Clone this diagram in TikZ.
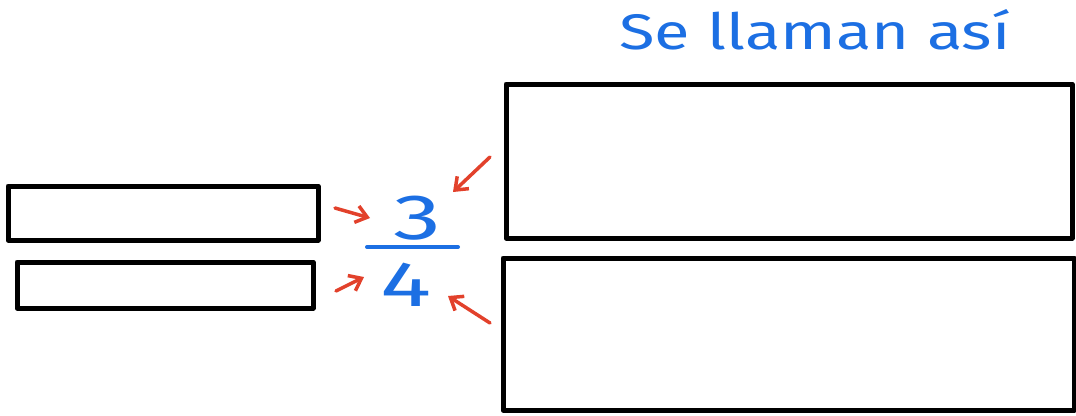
\documentclass[tikz,border=0pt]{standalone}
\usepackage{fontspec}
\setmainfont{Fira Sans}
\usetikzlibrary{arrows.meta}
\definecolor{penblue}{HTML}{1C6FE3}
\definecolor{penred}{HTML}{E2412B}
\tikzset{
  box/.style={draw=black, line width=5pt, inner sep=0pt, line join=round},
  bluetext/.style={text=penblue, inner sep=0pt, font=\fontsize{64}{64}\selectfont\mdseries, xscale=1.5},
  redarrow/.style={draw=penred, line width=3.5pt, line cap=round, -{Straight Barb[length=11pt,width=17pt,line width=3.5pt]}},
}
\begin{document}
\begin{tikzpicture}[x=1pt,y=-1pt]
\useasboundingbox (0,0) rectangle (1076,415);
% boxes
\node[box, minimum width=310pt, minimum height=54pt] (lt) at (163,213) {};
\node[box, minimum width=296pt, minimum height=46pt] (lb) at (165,285) {};
\node[box, minimum width=566pt, minimum height=154pt] (rt) at (789,161) {};
\node[box, minimum width=571pt, minimum height=152pt] (rb) at (788.5,334) {};
% title
\node[text=penblue, inner sep=0pt, font=\fontsize{50}{50}\selectfont, xscale=1.3] (title) at (815,30) {Se llaman así};
% fraction
\node[bluetext] (three) at (417,218) {3};
\node[bluetext] (four) at (406,285) {4};
\coordinate (barl) at (367,247);
\coordinate (barr) at (458,247);
\draw[draw=penblue, line width=4pt, line cap=round] (barl) -- (barr);
% arrow end coordinates
\coordinate (a1s) at (335,208);
\coordinate (a1e) at (370,218);
\coordinate (a2s) at (336,291);
\coordinate (a2e) at (364,277);
\coordinate (a3s) at (490,157);
\coordinate (a3e) at (453,192);
\coordinate (a4s) at (490,323);
\coordinate (a4e) at (448,296);
\draw[redarrow] (a1s) -- (a1e);
\draw[redarrow] (a2s) -- (a2e);
\draw[redarrow] (a3s) -- (a3e);
\draw[redarrow] (a4s) -- (a4e);
\end{tikzpicture}
\end{document}
